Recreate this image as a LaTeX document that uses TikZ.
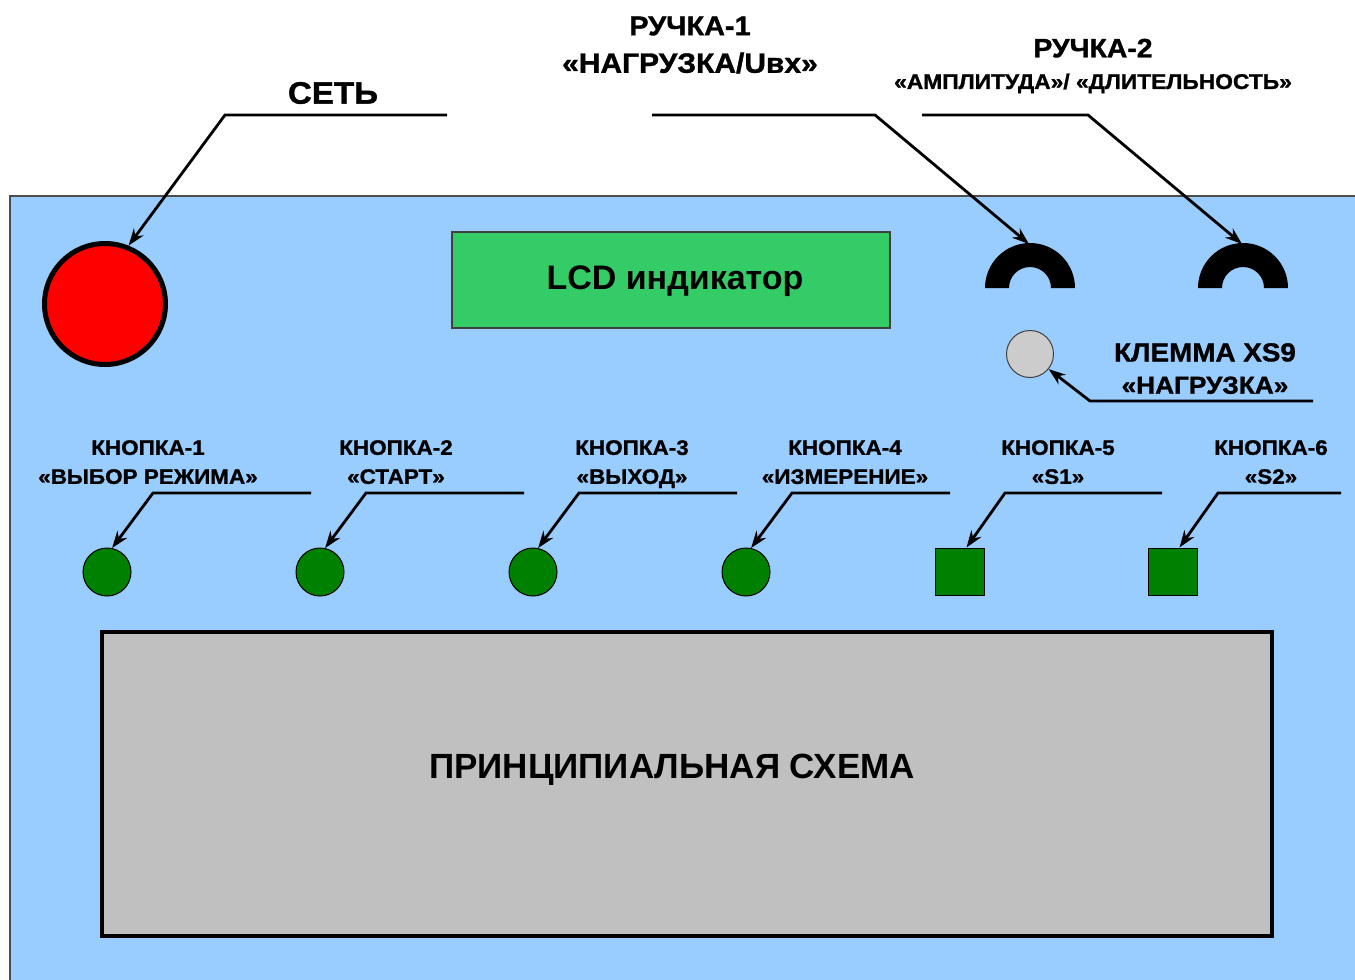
\documentclass[tikz,border=0pt]{standalone}
\usepackage{fontspec}
\setmainfont{Liberation Sans}
\newfontfamily\widefont[FakeStretch=1.07,FakeBold=1.2]{Liberation Sans Bold}
\usetikzlibrary{arrows.meta}
\definecolor{panelblue}{HTML}{99CCFF}
\definecolor{lcdgreen}{HTML}{33CC66}
\definecolor{btngreen}{HTML}{008000}
\definecolor{schemegray}{HTML}{C0C0C0}
\definecolor{termgray}{HTML}{CCCCCC}
\newcommand{\fsz}[1]{\bfseries\fontsize{#1}{#1}\selectfont}
\newcommand{\wsz}[1]{\widefont\fontsize{#1}{#1}\selectfont}
\begin{document}
\begin{tikzpicture}[x=1pt,y=-1pt,
  lead/.style={line width=2.8pt,-{Stealth[length=17pt,width=12pt]}},
  lbl/.style={align=center,inner sep=0pt,text=black},
  btnlbl/.style={lbl,anchor=north,font=\wsz{21}},
  btn/.style={circle,draw=black,line width=1pt,fill=btngreen,minimum size=48pt,inner sep=0pt},
  sqbtn/.style={rectangle,draw=black,line width=1pt,fill=btngreen,minimum width=49pt,minimum height=47pt,inner sep=0pt},
  knobshape/.style={fill=black}]
\useasboundingbox (0,0) rectangle (1355,980);
% panel
\fill[panelblue] (10,196) rectangle (1370,990);
\draw[draw=black!70,line width=1.5pt] (1370,196) -- (10,196) -- (10,990);
% power switch
\node[circle,fill=red,draw=black,line width=5pt,minimum size=121pt,inner sep=0pt] (power) at (105,304) {};
\node[lbl,font=\wsz{31}] (setlbl) at (333,93) {СЕТЬ};
\coordinate (s0) at (447,115);
\coordinate (s1) at (225,115);
\draw[lead] (s0) -- (s1) -- (power.68);
% LCD
\node[draw=black!75,line width=1.5pt,fill=lcdgreen,minimum width=438pt,minimum height=96pt,inner sep=0pt] (lcd) at (671,280) {};
\node[lbl,font=\fsz{34}] (lcdtext) at (675,281) {LCD индикатор};
% knobs
\fill[knobshape] (985,288) arc[start angle=180,end angle=360,radius=45] -- (1051,288) arc[start angle=360,end angle=180,radius=21] -- cycle;
\fill[knobshape] (1198,288) arc[start angle=180,end angle=360,radius=45] -- (1264,288) arc[start angle=360,end angle=180,radius=21] -- cycle;
\coordinate (k1) at (1029,244);
\coordinate (k2) at (1242,244);
\node[lbl] (r1lbl) at (690,45) {{\wsz{27}РУЧКА-1}\\[16pt]{\wsz{28}«НАГРУЗКА/Uвх»}};
\node[lbl] (r2lbl) at (1093,66) {{\wsz{26.5}РУЧКА-2}\\[15pt]{\wsz{21.3}«АМПЛИТУДА»/ «ДЛИТЕЛЬНОСТЬ»}};
\coordinate (r1a) at (652,115);
\coordinate (r1b) at (875,115);
\coordinate (r2a) at (922,115);
\coordinate (r2b) at (1088,115);
\draw[lead] (r1a) -- (r1b) -- (k1);
\draw[lead] (r2a) -- (r2b) -- (k2);
% terminal
\node[circle,fill=termgray,draw=black!75,line width=1pt,minimum size=47pt,inner sep=0pt] (xs) at (1030,354) {};
\node[lbl,anchor=north] (xslbl) at (1205,343) {{\wsz{26}КЛЕММА XS9}\\[14pt]{\wsz{24.5}«НАГРУЗКА»}};
\coordinate (x0) at (1313,401);
\coordinate (x1) at (1090,401);
\draw[lead] (x0) -- (x1) -- (xs.-39);
% buttons
\node[btn] (b1) at (107,572) {};
\node[btn] (b2) at (320,572) {};
\node[btn] (b3) at (533,572) {};
\node[btn] (b4) at (746,572) {};
\node[sqbtn] (b5) at (959.5,571.5) {};
\node[sqbtn] (b6) at (1172.5,571.5) {};
\node[btnlbl] (l1) at (148,440) {КНОПКА-1\\[8pt]«ВЫБОР РЕЖИМА»};
\node[btnlbl] (l2) at (396,440) {КНОПКА-2\\[8pt]«СТАРТ»};
\node[btnlbl] (l3) at (632,440) {КНОПКА-3\\[8pt]«ВЫХОД»};
\node[btnlbl] (l4) at (845,440) {КНОПКА-4\\[8pt]«ИЗМЕРЕНИЕ»};
\node[btnlbl] (l5) at (1058,440) {КНОПКА-5\\[8pt]«S1»};
\node[btnlbl] (l6) at (1271,440) {КНОПКА-6\\[8pt]«S2»};
\coordinate (a1) at (311,493); \coordinate (c1) at (153,493);
\coordinate (a2) at (524,493); \coordinate (c2) at (366,493);
\coordinate (a3) at (737,493); \coordinate (c3) at (579,493);
\coordinate (a4) at (950,493); \coordinate (c4) at (792,493);
\coordinate (a5) at (1162,493); \coordinate (c5) at (1005,493);
\coordinate (a6) at (1341,493); \coordinate (c6) at (1218,493);
\draw[lead] (a1) -- (c1) -- (b1.78);
\draw[lead] (a2) -- (c2) -- (b2.78);
\draw[lead] (a3) -- (c3) -- (b3.78);
\draw[lead] (a4) -- (c4) -- (b4.78);
\draw[lead] (a5) -- (c5) -- ([xshift=7pt]b5.north);
\draw[lead] (a6) -- (c6) -- ([xshift=7pt]b6.north);
% scheme
\node[draw=black,line width=3.5pt,fill=schemegray,minimum width=1170pt,minimum height=304pt,inner sep=0pt] (scheme) at (687,784) {};
\node[lbl,font=\fsz{35}] (schemetext) at (672,770) {ПРИНЦИПИАЛЬНАЯ СХЕМА};
\end{tikzpicture}
\end{document}
